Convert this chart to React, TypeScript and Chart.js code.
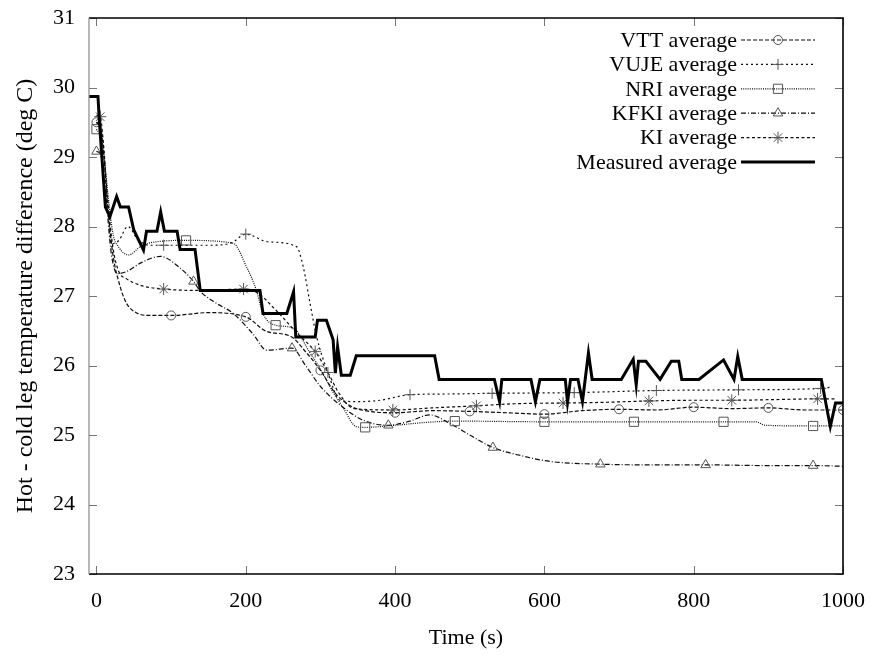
import React, { useEffect, useRef } from 'react';
import { Chart, registerables } from 'chart.js';
import { drawPoint } from 'chart.js/helpers';

Chart.register(...registerables);

const FONT = "'Liberation Serif', 'DejaVu Serif', 'Times New Roman', serif";

// ---- axes ----
const xTickValues = [0, 200, 400, 600, 800, 1000];
const yTickValues = [23, 24, 25, 26, 27, 28, 29, 30, 31];
const xTitle = 'Time (s)';
const yTitle = 'Hot - cold leg temperature difference (deg C)';

// ---- VTT average ----
const vttT = [0, 5, 10, 15, 22, 30, 40, 50, 70, 100, 150, 200, 228, 260, 280, 300, 320, 340, 360, 400, 450, 500, 550, 600, 650, 700, 750, 800, 850, 900, 950, 1000];
const vttV = [29.5, 29.45, 29.0, 28.3, 27.6, 27.2, 26.9, 26.78, 26.72, 26.72, 26.76, 26.7, 26.49, 26.42, 26.2, 25.93, 25.6, 25.42, 25.35, 25.32, 25.35, 25.34, 25.32, 25.3, 25.35, 25.37, 25.36, 25.4, 25.38, 25.39, 25.36, 25.36];
const vttMarks = [0, 100, 200, 300, 400, 500, 600, 700, 800, 900, 1000];

// ---- VUJE average ----
const vujeT = [0, 8, 15, 20, 30, 42, 55, 70, 90, 150, 180, 200, 230, 268, 277, 286, 295, 310, 326, 350, 380, 420, 470, 530, 640, 750, 860, 970, 985];
const vujeV = [29.5, 29.3, 28.3, 27.75, 27.8, 28.0, 27.82, 27.73, 27.73, 27.73, 27.76, 27.89, 27.78, 27.71, 27.42, 26.9, 26.41, 25.9, 25.5, 25.48, 25.5, 25.58, 25.59, 25.6, 25.61, 25.64, 25.65, 25.67, 25.69];
const vujeMarks = [90, 200, 310, 420, 530, 640, 750, 860, 970];

// ---- NRI average ----
const nriT = [0, 8, 15, 22, 30, 43, 60, 80, 120, 183, 201, 214, 223, 240, 255, 268, 285, 300, 315, 330, 348, 360, 400, 440, 480, 600, 720, 840, 883, 896, 960, 1000];
const nriV = [29.4, 29.2, 28.5, 27.9, 27.7, 27.59, 27.72, 27.78, 27.8, 27.76, 27.42, 27.09, 26.75, 26.58, 26.56, 26.5, 26.2, 25.95, 25.65, 25.4, 25.12, 25.11, 25.14, 25.18, 25.2, 25.19, 25.19, 25.19, 25.19, 25.14, 25.13, 25.13];
const nriMarks = [0, 120, 240, 360, 480, 600, 720, 840, 960];

// ---- KFKI average ----
const kfkiT = [0, 5, 12, 20, 28, 40, 60, 86, 110, 130, 139, 160, 183, 210, 228, 262, 280, 300, 330, 360, 391, 420, 446, 473, 500, 531, 570, 607, 675, 750, 816, 900, 960, 1000];
const kfkiV = [29.08, 29.05, 28.5, 27.6, 27.32, 27.35, 27.48, 27.57, 27.42, 27.21, 27.07, 26.9, 26.75, 26.45, 26.22, 26.25, 26.0, 25.7, 25.4, 25.2, 25.14, 25.2, 25.29, 25.17, 25.0, 24.82, 24.7, 24.62, 24.58, 24.57, 24.57, 24.56, 24.56, 24.55];
const kfkiMarks = [0, 130, 262, 391, 531, 675, 816, 960];

// ---- KI average ----
const kiT = [0, 5, 10, 15, 22, 30, 40, 60, 90, 140, 197, 215, 240, 270, 293, 310, 325, 345, 397, 450, 509, 560, 625, 680, 740, 800, 851, 910, 966, 990];
const kiV = [29.6, 29.58, 29.1, 28.4, 27.7, 27.35, 27.25, 27.15, 27.1, 27.08, 27.1, 27.05, 26.8, 26.45, 26.2, 25.9, 25.6, 25.38, 25.36, 25.39, 25.42, 25.45, 25.46, 25.47, 25.49, 25.5, 25.5, 25.51, 25.52, 25.52];
const kiMarks = [5, 90, 197, 293, 397, 509, 625, 740, 851, 966];

// ---- Measured average ----
const measT = [-10, 2, 4, 12, 18, 27, 32, 43, 50, 63, 67, 81, 86, 91, 108, 112, 132, 139, 219, 223, 255, 264, 267, 293, 296, 308, 317, 320, 323, 328, 340, 348, 453, 459, 533, 540, 543, 582, 588, 594, 628, 631, 635, 645, 651, 659, 664, 703, 719, 723, 726, 736, 755, 770, 780, 784, 807, 840, 854, 859, 865, 971, 983, 990, 1000];
const measV = [29.87, 29.87, 29.5, 28.28, 28.14, 28.43, 28.28, 28.28, 27.95, 27.66, 27.93, 27.93, 28.21, 27.93, 27.93, 27.67, 27.67, 27.08, 27.08, 26.75, 26.75, 27.06, 26.41, 26.41, 26.65, 26.65, 26.37, 25.89, 26.27, 25.86, 25.86, 26.14, 26.14, 25.8, 25.8, 25.48, 25.8, 25.8, 25.48, 25.8, 25.8, 25.47, 25.8, 25.8, 25.48, 26.18, 25.8, 25.8, 26.09, 25.72, 26.06, 26.06, 25.8, 26.06, 26.06, 25.8, 25.8, 26.08, 25.8, 26.13, 25.8, 25.8, 25.12, 25.46, 25.46];

const labels = ['VTT average', 'VUJE average', 'NRI average', 'KFKI average', 'KI average', 'Measured average'];

const pts = (t: number[], v: number[]) => t.map((x, i) => ({ x, y: v[i] }));

const LINE = '#0d0d0d';
const MARK = '#555';

function modelDataset(label: string, t: number[], v: number[], marks: number[], dash: number[], style: string, r: number) {
  const set = new Set(marks);
  return {
    label,
    data: pts(t, v),
    borderColor: LINE,
    borderWidth: 1.2,
    borderDash: dash,
    pointStyle: style,
    radius: r,
    pointRadius: (c: any) => (c.raw && set.has(c.raw.x) ? r : 0),
    pointHoverRadius: 0,
    pointBorderColor: MARK,
    pointBackgroundColor: 'rgba(0,0,0,0)',
    pointBorderWidth: 1,
    tension: 0.4,
    cubicInterpolationMode: 'monotone',
    fill: false,
    order: 1,
  };
}

const legendPlugin = {
  id: 'gnuFrameLegend',
  afterDraw(chart: any) {
    const { ctx, chartArea: a, scales } = chart;
    const xs = scales.x;
    const ys = scales.y;
    ctx.save();
    ctx.lineWidth = 1;
    ctx.strokeStyle = '#777';
    ctx.setLineDash([]);
    const seg = (x1: number, y1: number, x2: number, y2: number) => {
      ctx.beginPath();
      ctx.moveTo(x1, y1);
      ctx.lineTo(x2, y2);
      ctx.stroke();
    };
    for (const v of xTickValues) {
      const px = Math.round(xs.getPixelForValue(v)) + 0.5;
      seg(px, a.bottom, px, a.bottom - 8);
      seg(px, a.top, px, a.top + 8);
    }
    for (const v of yTickValues) {
      const py = Math.round(ys.getPixelForValue(v)) + 0.5;
      seg(a.left, py, a.left + 8, py);
      seg(a.right, py, a.right - 8, py);
    }
    ctx.strokeStyle = '#000';
    ctx.lineWidth = 1.6;
    ctx.beginPath();
    ctx.moveTo(a.left, a.top);
    ctx.lineTo(a.right, a.top);
    ctx.lineTo(a.right, a.bottom);
    ctx.lineTo(a.left, a.bottom);
    ctx.stroke();
    ctx.strokeStyle = '#888';
    ctx.lineWidth = 1.2;
    seg(a.left, a.top, a.left, a.bottom);

    // key
    const textRight = 737;
    const lineL = 741;
    const lineR = 815;
    const top = 40;
    const step = 24.4;
    ctx.font = `22px ${FONT}`;
    ctx.textAlign = 'right';
    ctx.textBaseline = 'middle';
    chart.data.datasets.forEach((ds: any, i: number) => {
      const y = top + i * step;
      ctx.fillStyle = '#000';
      ctx.fillText(ds.label, textRight, y + 1);
      ctx.strokeStyle = ds.borderColor;
      ctx.lineWidth = ds.borderWidth;
      ctx.setLineDash(ds.borderDash || []);
      seg(lineL, y, lineR, y);
      ctx.setLineDash([]);
      if (ds.radius) {
        ctx.strokeStyle = MARK;
        ctx.fillStyle = 'rgba(0,0,0,0)';
        ctx.lineWidth = 1;
        drawPoint(ctx, { pointStyle: ds.pointStyle, radius: ds.radius, rotation: 0, borderWidth: 1 }, (lineL + lineR) / 2, y);
      }
    });
    ctx.restore();
  },
};

export default function App() {
  const ref = useRef<HTMLCanvasElement | null>(null);
  useEffect(() => {
    if (!ref.current) return;
    Chart.defaults.font.family = FONT;
    const datasets: any[] = [
      modelDataset(labels[0], vttT, vttV, vttMarks, [4, 2], 'circle', 4.5),
      modelDataset(labels[1], vujeT, vujeV, vujeMarks, [2, 3], 'cross', 5.5),
      modelDataset(labels[2], nriT, nriV, nriMarks, [1, 1.2], 'rect', 6.5),
      modelDataset(labels[3], kfkiT, kfkiV, kfkiMarks, [5, 2, 1, 2], 'triangle', 5.5),
      modelDataset(labels[4], kiT, kiV, kiMarks, [3, 2.5], 'star', 6),
      {
        label: labels[5],
        data: pts(measT, measV),
        borderColor: '#000',
        borderWidth: 3,
        borderDash: [],
        pointRadius: 0,
        pointHoverRadius: 0,
        tension: 0,
        borderJoinStyle: 'miter',
        fill: false,
        order: 0,
      },
    ];
    const chart = new Chart(ref.current, {
      type: 'line',
      data: { datasets },
      plugins: [legendPlugin],
      options: {
        responsive: false,
        animation: false,
        events: [],
        layout: { padding: { left: 0, right: 27, top: 18, bottom: 0 } },
        plugins: { legend: { display: false }, tooltip: { enabled: false } },
        scales: {
          x: {
            type: 'linear',
            min: -10,
            max: 1000,
            afterBuildTicks: (s: any) => {
              s.ticks = xTickValues.map((value) => ({ value }));
            },
            afterFit: (s: any) => {
              s.height = 81;
              s.paddingLeft = 0;
              s.paddingRight = 0;
            },
            grid: { display: false, drawTicks: false },
            border: { display: false },
            ticks: {
              color: '#000',
              font: { size: 22, family: FONT },
              padding: 14,
              maxRotation: 0,
              autoSkip: false,
              callback: (v: any) => String(v),
            },
            title: { display: true, text: xTitle, color: '#000', font: { size: 22, family: FONT }, padding: 4 },
          },
          y: {
            type: 'linear',
            min: 23,
            max: 31,
            afterBuildTicks: (s: any) => {
              s.ticks = yTickValues.map((value) => ({ value }));
            },
            afterFit: (s: any) => {
              s.width = 89;
              s.paddingTop = 0;
              s.paddingBottom = 0;
            },
            grid: { display: false, drawTicks: false },
            border: { display: false },
            ticks: { color: '#000', font: { size: 22, family: FONT }, padding: 14, autoSkip: false, callback: (v: any) => String(v) },
            title: { display: true, text: yTitle, color: '#000', font: { size: 24, family: FONT }, padding: 11 },
          },
        },
      } as any,
    });
    return () => chart.destroy();
  }, []);
  return (
    <div style={{ position: 'absolute', left: 0, top: 0, width: 870, height: 655, background: '#fff' }}>
      <canvas ref={ref} width={870} height={655} style={{ display: 'block' }} />
    </div>
  );
}
